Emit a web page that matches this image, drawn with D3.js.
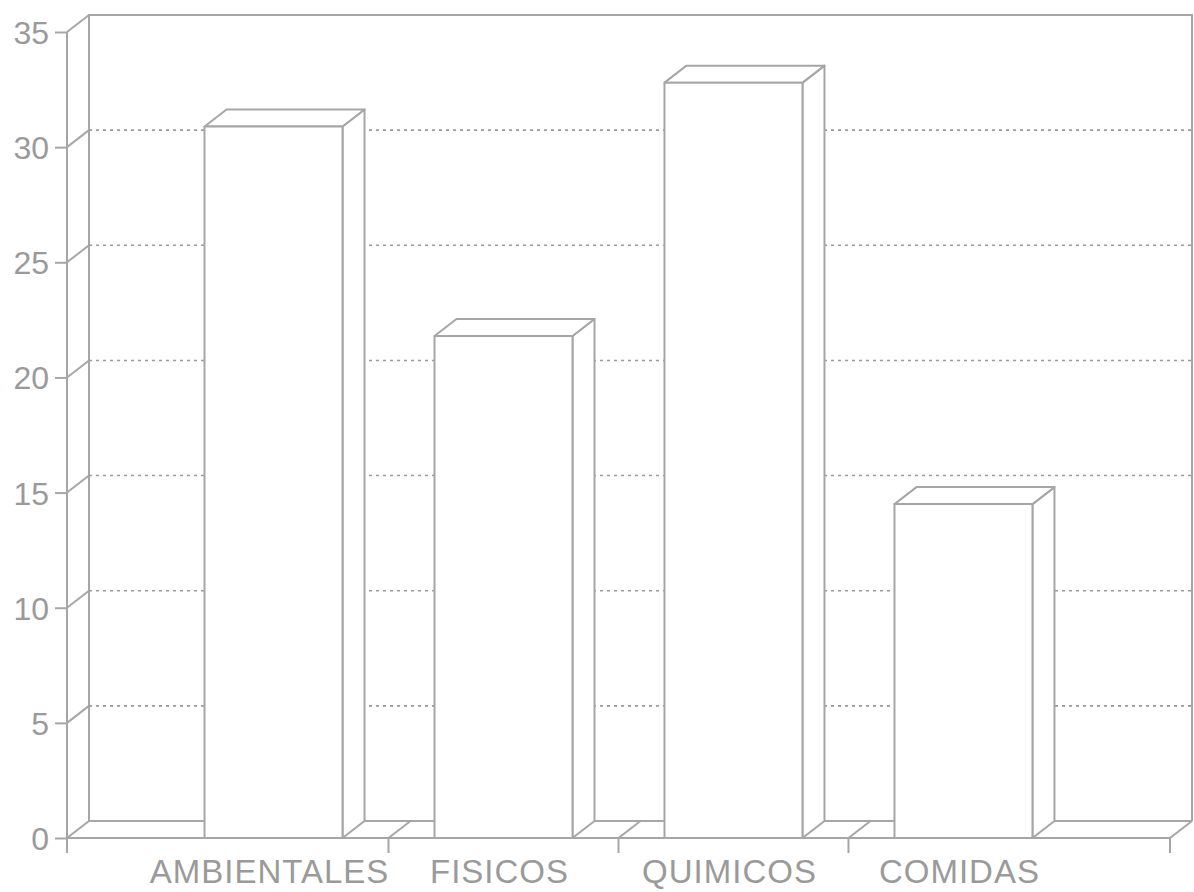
<!DOCTYPE html>
<html>
<meta charset="utf-8">
<head>
<style>
body { margin: 0; background: #fff; }
.frame line, .frame path { stroke: #a6a6a6; stroke-width: 2; fill: none; }
.grid line { stroke: #999; stroke-width: 1.6; stroke-dasharray: 3,4; }
.bars path, .bars rect { stroke: #a6a6a6; stroke-width: 2; fill: #fff; stroke-linejoin: round; }
.axis text, .labels text { fill: #9a9a9a; font-family: "Liberation Sans", Arial, sans-serif; font-size: 32px; }
.labels text { font-size: 33px; letter-spacing: 1px; }
.axis line { stroke: #a6a6a6; stroke-width: 2; }
</style>
</head>
<body>
<svg width="1194" height="892"></svg>

<script src="https://cdn.jsdelivr.net/npm/d3@7"></script>
<script>

var categories = ["AMBIENTALES", "FISICOS", "QUIMICOS", "COMIDAS"];
var values = [30.9, 21.8, 32.8, 14.5];
var yTicks = [0, 5, 10, 15, 20, 25, 30, 35];

var svg = d3.select("svg");

// depth of the 3d box
var dx = 22, dy = -17;

var y = d3.scaleLinear().domain([0, 35]).range([838, 32]);
var x = d3.scaleBand().domain(categories)
    .range([67, 1170])
    .paddingInner(0.4)
    .paddingOuter(0.598);

var x0 = x.range()[0], x1 = x.range()[1];
var bw = x.bandwidth();

var frame = svg.append("g").attr("class", "frame");
var grid = svg.append("g").attr("class", "grid");

// dotted lines on back wall
grid.selectAll("line")
  .data(yTicks.filter(function(d) { return d > 0 && d < 35; }))
  .enter().append("line")
    .attr("x1", x0 + dx).attr("x2", x1 + dx)
    .attr("y1", function(d) { return y(d) + dy; })
    .attr("y2", function(d) { return y(d) + dy; });

// back wall
frame.append("path")
    .attr("d", d3.line()([[x0 + dx, y(0) + dy], [x0 + dx, y(35) + dy], [x1 + dx, y(35) + dy], [x1 + dx, y(0) + dy]]));

// left wall diagonals
frame.selectAll("line.diag")
  .data(yTicks)
  .enter().append("line")
    .attr("class", "diag")
    .attr("x1", x0).attr("x2", x0 + dx)
    .attr("y1", function(d) { return y(d); })
    .attr("y2", function(d) { return y(d) + dy; });

// front y axis
frame.append("line")
    .attr("x1", x0).attr("x2", x0)
    .attr("y1", y(35)).attr("y2", y(0) + 15);

// floor
frame.append("line")
    .attr("x1", x0 + dx).attr("x2", x1 + dx)
    .attr("y1", y(0) + dy).attr("y2", y(0) + dy);
frame.append("line")
    .attr("x1", x0).attr("x2", x1)
    .attr("y1", y(0)).attr("y2", y(0));

// category separators on the floor
var seps = categories.slice(0, 3).map(function(c) {
  return x(c) + bw + x.step() * x.paddingInner() / 2;
});
seps.push(x1);

frame.selectAll("line.sep")
  .data(seps)
  .enter().append("line")
    .attr("class", "sep")
    .attr("x1", function(d) { return d; })
    .attr("x2", function(d) { return d + dx; })
    .attr("y1", y(0)).attr("y2", y(0) + dy);

frame.selectAll("line.septick")
  .data(seps)
  .enter().append("line")
    .attr("class", "septick")
    .attr("x1", function(d) { return d; })
    .attr("x2", function(d) { return d; })
    .attr("y1", y(0)).attr("y2", y(0) + 15);

// bars
var bars = svg.append("g").attr("class", "bars")
  .selectAll("g")
  .data(categories)
  .enter().append("g");

bars.append("path")
    .attr("d", function(c, i) {
      var l = x(c), r = l + bw, t = y(values[i]), b = y(0);
      return d3.line()([[r, t], [r + dx, t + dy], [r + dx, b + dy], [r, b]]) + "Z";
    });

bars.append("path")
    .attr("d", function(c, i) {
      var l = x(c), r = l + bw, t = y(values[i]);
      return d3.line()([[l, t], [l + dx, t + dy], [r + dx, t + dy], [r, t]]) + "Z";
    });

bars.append("rect")
    .attr("x", function(c) { return x(c); })
    .attr("y", function(c, i) { return y(values[i]); })
    .attr("width", bw)
    .attr("height", function(c, i) { return y(0) - y(values[i]); });

// y axis ticks and labels
var axis = svg.append("g")
    .attr("class", "axis")
    .attr("transform", "translate(" + x0 + ",0)")
    .call(d3.axisLeft(y).tickValues(yTicks).tickSize(12).tickPadding(6));
axis.select(".domain").remove();
axis.selectAll("text").attr("dy", "0.36em");

// category labels
svg.append("g").attr("class", "labels")
  .selectAll("text")
  .data(categories)
  .enter().append("text")
    .attr("x", function(c) { return x(c) + bw / 2 - 4; })
    .attr("y", 883)
    .attr("text-anchor", "middle")
    .text(function(c) { return c; });

</script>
</body>
</html>
